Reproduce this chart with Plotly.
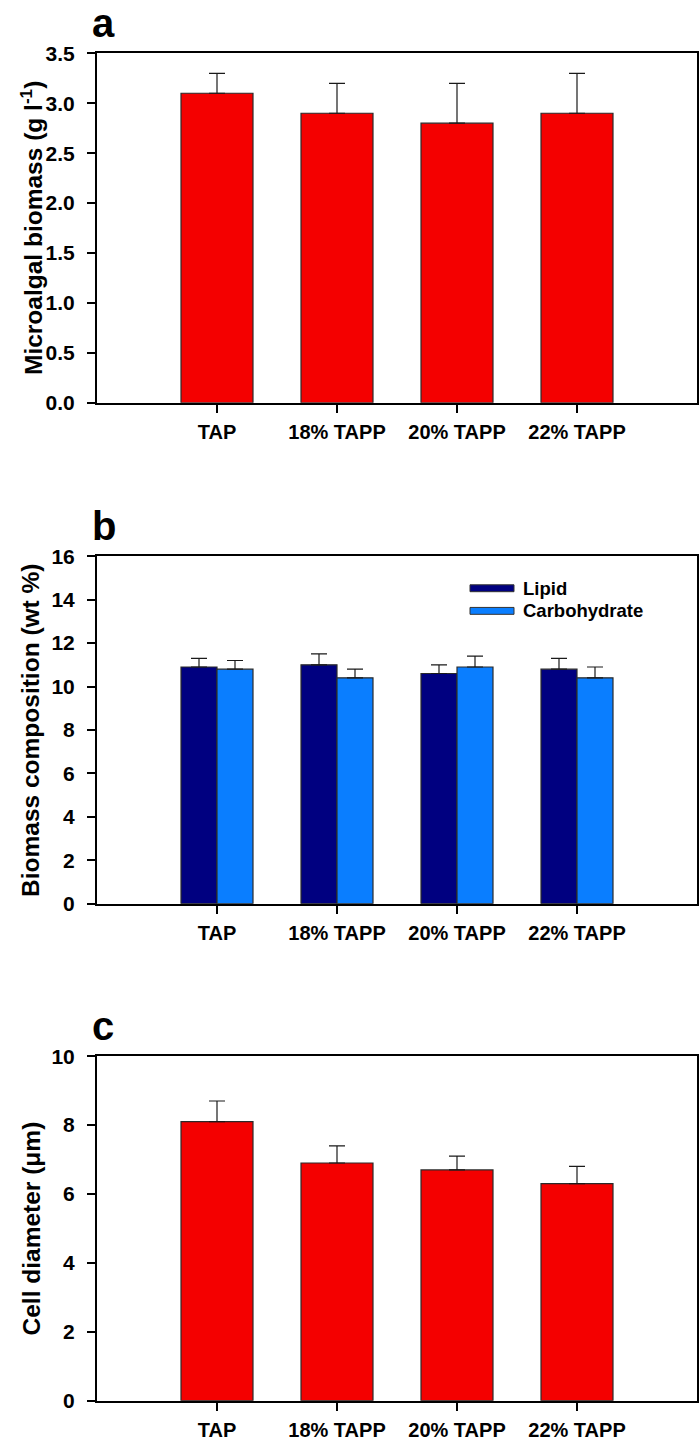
import plotly.graph_objects as go
from plotly.subplots import make_subplots

categories = ["TAP", "18% TAPP", "20% TAPP", "22% TAPP"]

biomass = [3.1, 2.9, 2.8, 2.9]
biomass_err = [0.2, 0.3, 0.4, 0.4]

lipid = [10.9, 11.0, 10.6, 10.8]
lipid_err = [0.4, 0.5, 0.4, 0.5]
carbohydrate = [10.8, 10.4, 10.9, 10.4]
carbohydrate_err = [0.4, 0.4, 0.5, 0.5]

diameter = [8.1, 6.9, 6.7, 6.3]
diameter_err = [0.6, 0.5, 0.4, 0.5]

RED = "#f40000"
NAVY = "#000080"
LIGHTBLUE = "#0a7eff"
FONT = "Liberation Sans"
W, H = 700, 1455

fig = make_subplots(rows=3, cols=1)


def err(vals):
    return dict(type="data", symmetric=False, array=vals, arrayminus=[0] * len(vals),
                color="#1a1a1a", thickness=1.2, width=8)


outline = dict(color="#2a2a2a", width=1.2)

fig.add_trace(go.Bar(x=categories, y=biomass, error_y=err(biomass_err),
                     marker=dict(color=RED, line=outline), showlegend=False), row=1, col=1)
fig.add_trace(go.Bar(x=categories, y=lipid, error_y=err(lipid_err), name="Lipid",
                     marker=dict(color=NAVY, line=outline), showlegend=False), row=2, col=1)
fig.add_trace(go.Bar(x=categories, y=carbohydrate, error_y=err(carbohydrate_err), name="Carbohydrate",
                     marker=dict(color=LIGHTBLUE, line=outline), showlegend=False), row=2, col=1)
fig.add_trace(go.Bar(x=categories, y=diameter, error_y=err(diameter_err),
                     marker=dict(color=RED, line=outline), showlegend=False), row=3, col=1)

# pixel geometry -> paper
x0, x1 = 97, 697
panels = [(42, 397), (553, 906), (1061, 1411)]
yranges = [[0, 3.5], [0, 16], [0, 10]]
dticks = [0.5, 2, 2]
fmts = [".1f", "d", "d"]
titles = ["Microalgal biomass (g l<sup>-1</sup>)", "Biomass composition (wt %)", "Cell diameter (μm)"]
letters = ["a", "b", "c"]

xtickfont = dict(family=FONT, size=20, color="black", weight="bold")
ytickfont = dict(family=FONT, size=21, color="black", weight="bold")
axis_common = dict(showline=True, mirror=True, linewidth=2, linecolor="black",
                   ticks="outside", ticklen=8, tickwidth=1.5, tickcolor="black",
                   showgrid=False, zeroline=False)

annotations = []
for i, (top, bot) in enumerate(panels):
    n = "" if i == 0 else str(i + 1)
    fig.layout["xaxis" + n].update(domain=[x0 / W, x1 / W], range=[-1, 4],
                                   ticklabelstandoff=2, tickfont=xtickfont, **axis_common)
    fig.layout["yaxis" + n].update(domain=[1 - bot / H, 1 - top / H], range=yranges[i],
                                   dtick=dticks[i], tickformat=fmts[i],
                                   ticklabelstandoff=8, tickfont=ytickfont, **axis_common)
    annotations.append(dict(text=titles[i], xref="paper", yref="paper",
                            x=31 / W, y=1 - (top + bot) / 2 / H, textangle=-90,
                            showarrow=False, xanchor="center", yanchor="middle",
                            font=dict(family=FONT, size=24.5, color="black", weight="bold")))
    annotations.append(dict(text=letters[i], xref="paper", yref="paper",
                            x=90 / W, y=1 - (top - 6) / H, showarrow=False,
                            xanchor="left", yanchor="bottom",
                            font=dict(family=FONT, size=40, color="black", weight="bold")))

# legend for panel b
shapes = []
legend_items = [("Lipid", NAVY, 582, 589, 586), ("Carbohydrate", LIGHTBLUE, 605, 612, 608)]
top, bot = panels[1]
for label, col, ya, yb, yc in legend_items:
    shapes.append(dict(type="rect", xref="x2 domain", yref="y2 domain",
                       x0=(470 - x0) / (x1 - x0), x1=(514 - x0) / (x1 - x0),
                       y0=(bot - yb) / (bot - top), y1=(bot - ya) / (bot - top),
                       fillcolor=col, line=dict(color="#333333", width=1)))
    annotations.append(dict(text=label, xref="x2 domain", yref="y2 domain",
                            x=(521 - x0) / (x1 - x0), y=(bot - yc) / (bot - top),
                            showarrow=False, xanchor="left", yanchor="middle",
                            font=dict(family=FONT, size=18.5, color="black", weight="bold")))

fig.update_layout(width=W, height=H, margin=dict(l=0, r=0, t=0, b=0),
                  paper_bgcolor="white", plot_bgcolor="white",
                  barmode="group", bargap=0.4, bargroupgap=0,
                  annotations=annotations, shapes=shapes,
                  font=dict(family=FONT, color="black"))

fig.write_html("out.html", config={"displayModeBar": False},
               post_script="document.body.style.margin='0';document.body.style.overflow='hidden';")
